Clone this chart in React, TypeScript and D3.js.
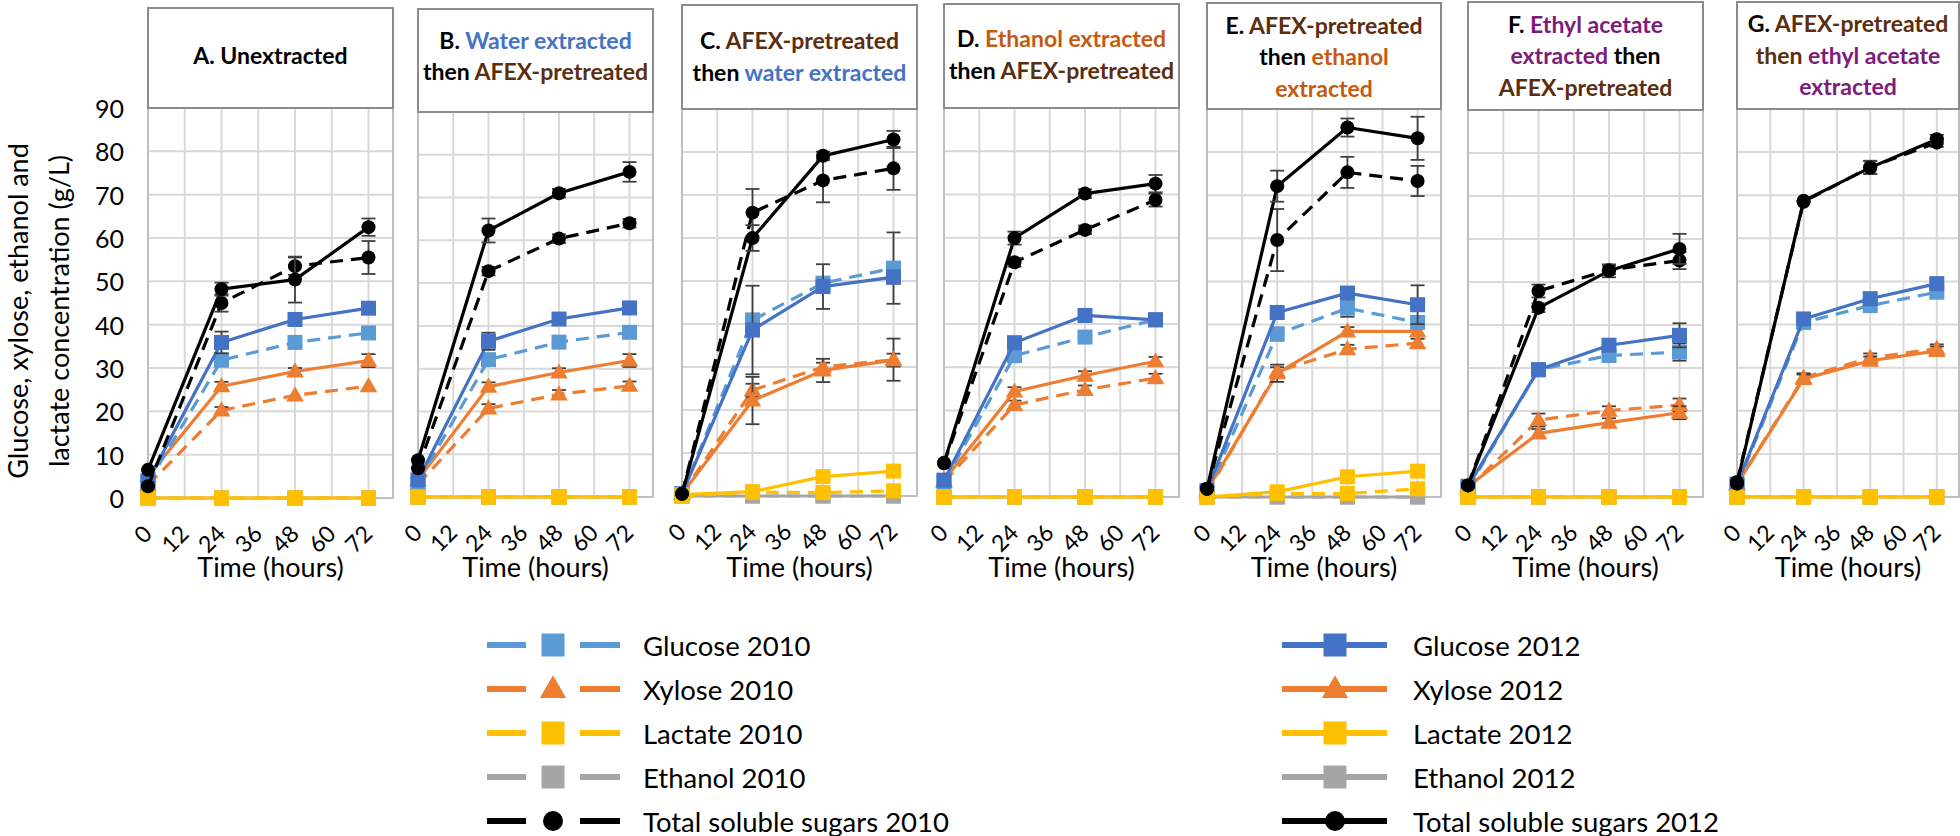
import React from 'react';
import * as d3 from 'd3';

// ---------------- DATA ----------------
const hours = [0, 24, 48, 72];
const xTicks = [0, 12, 24, 36, 48, 60, 72];
const yTicks = [0, 10, 20, 30, 40, 50, 60, 70, 80, 90];

// rows: panels A..G, columns: hours 0, 24, 48, 72 (g/L)
const glucose2010 = [
  [3.5, 31.8, 35.9, 38.1],
  [3.5, 32.1, 36.2, 38.5],
  [0.5, 40.9, 49.5, 53.0],
  [3.5, 32.7, 37.0, 41.0],
  [1.0, 37.8, 43.8, 40.5],
  [2.0, 29.6, 32.9, 33.7],
  [2.5, 40.5, 44.4, 47.5],
];
const glucose2012 = [
  [4.0, 35.9, 41.2, 43.8],
  [4.0, 36.4, 41.6, 44.2],
  [0.5, 38.6, 48.7, 50.9],
  [3.9, 35.7, 42.0, 41.0],
  [1.5, 42.8, 47.3, 44.6],
  [2.5, 29.6, 35.3, 37.6],
  [3.0, 41.3, 46.0, 49.5],
];
const xylose2010 = [
  [3.0, 20.2, 23.7, 25.8],
  [3.0, 20.7, 24.0, 26.0],
  [0.5, 24.6, 30.0, 31.7],
  [3.5, 21.3, 24.8, 27.5],
  [1.0, 29.1, 34.3, 35.7],
  [2.0, 17.9, 20.1, 21.4],
  [3.0, 27.7, 32.3, 34.4],
];
const xylose2012 = [
  [5.0, 25.8, 29.2, 31.7],
  [4.0, 25.8, 29.1, 31.9],
  [0.5, 22.2, 29.2, 31.6],
  [3.9, 24.4, 28.1, 31.4],
  [1.5, 28.7, 38.4, 38.4],
  [2.5, 14.8, 17.3, 19.6],
  [3.0, 27.4, 31.6, 33.9],
];
const lactate2010 = [
  [0, 0, 0, 0],
  [0, 0, 0, 0],
  [0, 0.9, 0.8, 1.2],
  [0, 0, 0, 0],
  [0, 0.8, 0.8, 1.9],
  [0, 0, 0, 0],
  [0, 0, 0, 0],
];
const lactate2012 = [
  [0, 0, 0, 0],
  [0, 0, 0, 0],
  [0.3, 1.0, 4.5, 5.8],
  [0, 0, 0, 0],
  [0, 1.2, 4.7, 6.0],
  [0, 0, 0, 0],
  [0, 0, 0, 0],
];
const ethanol2010 = [
  [0, 0, 0, 0], [0, 0, 0, 0], [0, 0, 0, 0], [0, 0, 0, 0],
  [0, 0, 0, 0], [0, 0, 0, 0], [0, 0, 0, 0],
];
const ethanol2012 = [
  [0, 0, 0, 0], [0, 0, 0, 0], [0, 0, 0, 0], [0, 0, 0, 0],
  [0, 0, 0, 0], [0, 0, 0, 0], [0, 0, 0, 0],
];
const total2010 = [
  [2.7, 45.0, 53.5, 55.5],
  [6.7, 52.8, 60.4, 64.0],
  [0.5, 65.9, 73.4, 76.2],
  [7.8, 54.3, 61.8, 68.7],
  [1.9, 59.6, 75.3, 73.3],
  [2.7, 47.9, 52.8, 55.0],
  [3.5, 68.5, 76.5, 82.2],
];
const total2012 = [
  [6.5, 48.2, 50.4, 62.5],
  [8.6, 62.3, 71.0, 76.0],
  [0.5, 60.0, 79.1, 82.9],
  [7.9, 59.9, 70.2, 72.5],
  [1.9, 72.1, 85.7, 83.2],
  [2.7, 44.0, 52.6, 57.7],
  [3.1, 68.7, 76.4, 83.0],
];

// error bars (± g/L)
const glucose2010Err = [
  [0, 0.8, 0.8, 0.8], [0, 1, 0.8, 0.8], [0, 1.5, 1, 8.3], [0, 0.8, 0.8, 0.8],
  [0, 1.5, 2, 1], [0, 1, 1, 2], [0, 1, 1, 1],
];
const glucose2012Err = [
  [0, 2.5, 0.8, 1], [0, 2, 1, 0.8], [0, 10.3, 5.2, 1.5], [0, 1, 1, 1],
  [0, 1.5, 1, 4.5], [0, 1, 1, 2.8], [0, 1, 1, 1],
];
const xylose2010Err = [
  [0, 0.8, 0.5, 0.5], [0, 1, 1, 1], [0, 1.5, 1, 4.9], [0, 1, 1, 1],
  [0, 1, 1, 1], [0, 1.5, 1, 1.5], [0, 1, 1, 1],
];
const xylose2012Err = [
  [0, 1, 0.8, 1.5], [0, 1, 1, 1.5], [0, 5.5, 2.7, 1.5], [0, 1, 1, 1],
  [0, 2, 1, 1], [0, 1, 1, 1.5], [0, 1, 1, 1],
];
const lactate2012Err = [
  [0, 0, 0, 0], [0, 0, 0, 0], [0, 0.3, 1, 0.5], [0, 0, 0, 0],
  [0, 0.5, 1.2, 0.5], [0, 0, 0, 0], [0, 0, 0, 0],
];
const total2010Err = [
  [0, 2, 2, 3.8], [0, 1, 1, 1], [0, 5.5, 5.1, 5.0], [0, 1, 1, 1.5],
  [0, 7.2, 3.6, 3.5], [0, 1.5, 1, 2], [0, 0.5, 1.5, 1],
];
const total2012Err = [
  [0, 1.5, 5.3, 2], [0, 2.8, 1, 2.3], [0, 3, 1, 2], [0, 1.5, 1, 2],
  [0, 3.6, 2.1, 5.0], [0, 1, 1.5, 3.5], [0, 0.5, 1.5, 1],
];

// ---------------- LAYOUT / STYLE ----------------
const panelLeft = [148, 418, 682, 944, 1207, 1468, 1737];
const panelRight = [393, 653, 917, 1179, 1441, 1703, 1959];
const panelTop = [108, 112, 109, 108, 109, 110, 109];
const panelBottom = [498, 497, 496, 497, 497, 497, 497];
const titleTop = [8, 9, 5, 4, 3, 2, 2];
const titleShift = [-3, -5, -1, -2, 0, -1, -1];

const FONT = 'Lato, "Open Sans", sans-serif';
const BLACK = '#000000';
const BLUE = '#4472C4';
const BROWN = '#5A2E0E';
const ORANGE = '#C55A11';
const PURPLE = '#7B1C7B';

type Seg = { t: string; c: string };
const panelTitles: Seg[][][] = [
  [[{ t: 'A. Unextracted', c: BLACK }]],
  [
    [{ t: 'B. ', c: BLACK }, { t: 'Water extracted', c: BLUE }],
    [{ t: 'then ', c: BLACK }, { t: 'AFEX-pretreated', c: BROWN }],
  ],
  [
    [{ t: 'C. ', c: BLACK }, { t: 'AFEX-pretreated', c: BROWN }],
    [{ t: 'then ', c: BLACK }, { t: 'water extracted', c: BLUE }],
  ],
  [
    [{ t: 'D. ', c: BLACK }, { t: 'Ethanol extracted', c: ORANGE }],
    [{ t: 'then ', c: BLACK }, { t: 'AFEX-pretreated', c: BROWN }],
  ],
  [
    [{ t: 'E. ', c: BLACK }, { t: 'AFEX-pretreated', c: BROWN }],
    [{ t: 'then ', c: BLACK }, { t: 'ethanol', c: ORANGE }],
    [{ t: 'extracted', c: ORANGE }],
  ],
  [
    [{ t: 'F. ', c: BLACK }, { t: 'Ethyl acetate', c: PURPLE }],
    [{ t: 'extracted', c: PURPLE }, { t: ' then', c: BLACK }],
    [{ t: 'AFEX-pretreated', c: BROWN }],
  ],
  [
    [{ t: 'G. ', c: BLACK }, { t: 'AFEX-pretreated', c: BROWN }],
    [{ t: 'then ', c: BROWN }, { t: 'ethyl acetate', c: PURPLE }],
    [{ t: 'extracted', c: PURPLE }],
  ],
];

type Shape = 'square' | 'triangle' | 'circle';
interface Series {
  name: string;
  values: number[][];
  err: number[][] | null;
  color: string;
  dashed: boolean;
  shape: Shape;
}

const series2010: Series[] = [
  { name: 'Glucose 2010', values: glucose2010, err: glucose2010Err, color: '#5B9BD5', dashed: true, shape: 'square' },
  { name: 'Xylose 2010', values: xylose2010, err: xylose2010Err, color: '#ED7D31', dashed: true, shape: 'triangle' },
  { name: 'Lactate 2010', values: lactate2010, err: null, color: '#FFC000', dashed: true, shape: 'square' },
  { name: 'Ethanol 2010', values: ethanol2010, err: null, color: '#A5A5A5', dashed: true, shape: 'square' },
  { name: 'Total soluble sugars 2010', values: total2010, err: total2010Err, color: '#000000', dashed: true, shape: 'circle' },
];
const series2012: Series[] = [
  { name: 'Glucose 2012', values: glucose2012, err: glucose2012Err, color: '#4472C4', dashed: false, shape: 'square' },
  { name: 'Xylose 2012', values: xylose2012, err: xylose2012Err, color: '#ED7D31', dashed: false, shape: 'triangle' },
  { name: 'Lactate 2012', values: lactate2012, err: lactate2012Err, color: '#FFC000', dashed: false, shape: 'square' },
  { name: 'Ethanol 2012', values: ethanol2012, err: null, color: '#A5A5A5', dashed: false, shape: 'square' },
  { name: 'Total soluble sugars 2012', values: total2012, err: total2012Err, color: '#000000', dashed: false, shape: 'circle' },
];

// drawing order inside panels
const drawOrder: Series[] = [
  series2010[3], series2012[3],
  series2010[1], series2012[1],
  series2010[0], series2012[0],
  series2010[2], series2012[2],
  series2010[4], series2012[4],
];

function Marker({ shape, cx, cy, size, color }: { shape: Shape; cx: number; cy: number; size: number; color: string }) {
  if (shape === 'square') {
    return <rect x={cx - size / 2} y={cy - size / 2} width={size} height={size} fill={color} />;
  }
  if (shape === 'circle') {
    return <circle cx={cx} cy={cy} r={size / 2} fill={color} />;
  }
  const h = size * 0.95;
  const w = size * 1.1;
  const p = d3.path();
  p.moveTo(cx, cy - h * 0.6);
  p.lineTo(cx + w / 2, cy + h * 0.4);
  p.lineTo(cx - w / 2, cy + h * 0.4);
  p.closePath();
  return <path d={p.toString()} fill={color} />;
}

function Panel({ i }: { i: number }) {
  const left = panelLeft[i];
  const right = panelRight[i];
  const top = panelTop[i];
  const bottom = panelBottom[i];
  const x = d3.scaleLinear().domain([0, 80]).range([left, right]);
  const y = d3.scaleLinear().domain([0, 90]).range([bottom, top]);
  const line = d3
    .line<number>()
    .x((_, k) => x(hours[k]))
    .y((v) => y(v));

  const tTop = titleTop[i];
  const tMid = (tTop + top) / 2 + titleShift[i];
  const lines = panelTitles[i];
  const lh = 31.5;

  return (
    <g>
      {/* gridlines */}
      {xTicks.map((t) => (
        <line key={'gx' + t} x1={x(t)} x2={x(t)} y1={top} y2={bottom} stroke="#D9D9D9" strokeWidth={2} />
      ))}
      {yTicks.map((t) => (
        <line key={'gy' + t} x1={left} x2={right} y1={y(t)} y2={y(t)} stroke="#D9D9D9" strokeWidth={2} />
      ))}
      <rect x={left} y={top} width={right - left} height={bottom - top} fill="none" stroke="#BFBFBF" strokeWidth={2} />

      {/* title box */}
      <rect x={left} y={tTop} width={right - left} height={top - tTop} fill="#FFFFFF" stroke="#8C8C8C" strokeWidth={2} />
      {lines.map((segs, li) => (
        <text
          key={'tl' + li}
          x={(left + right) / 2}
          y={tMid + (li - (lines.length - 1) / 2) * lh}
          textAnchor="middle"
          dominantBaseline="central"
          fontFamily={FONT}
          fontWeight={700}
          fontSize={23}
        >
          {segs.map((s, si) => (
            <tspan key={si} fill={s.c} style={{ whiteSpace: 'pre' }}>
              {s.t}
            </tspan>
          ))}
        </text>
      ))}

      {/* series */}
      {drawOrder.map((s) => {
        const vals = s.values[i];
        const errs = s.err ? s.err[i] : null;
        return (
          <g key={s.name}>
            <path
              d={line(vals) || ''}
              fill="none"
              stroke={s.color}
              strokeWidth={3.2}
              strokeDasharray={s.dashed ? '13 8' : undefined}
              strokeLinejoin="round"
            />
            {errs &&
              vals.map((v, k) =>
                errs[k] > 0.6 ? (
                  <g key={'e' + k} stroke="#404040" strokeWidth={1.8}>
                    <line x1={x(hours[k])} x2={x(hours[k])} y1={y(v - errs[k])} y2={y(v + errs[k])} />
                    <line x1={x(hours[k]) - 7} x2={x(hours[k]) + 7} y1={y(v - errs[k])} y2={y(v - errs[k])} />
                    <line x1={x(hours[k]) - 7} x2={x(hours[k]) + 7} y1={y(v + errs[k])} y2={y(v + errs[k])} />
                  </g>
                ) : null
              )}
            {vals.map((v, k) => (
              <Marker
                key={'m' + k}
                shape={s.shape}
                cx={x(hours[k])}
                cy={y(v)}
                size={s.shape === 'circle' ? 14 : s.shape === 'triangle' ? 16 : 15}
                color={s.color}
              />
            ))}
          </g>
        );
      })}

      {/* x tick labels */}
      {xTicks.map((t) => (
        <text
          key={'xt' + t}
          transform={`translate(${x(t) - 1},${bottom + 31}) rotate(-45)`}
          textAnchor="end"
          dominantBaseline="central"
          fontFamily={FONT}
          fontSize={23}
          fill="#000"
        >
          {t}
        </text>
      ))}
      <text
        x={(left + right) / 2}
        y={577}
        textAnchor="middle"
        fontFamily={FONT}
        fontSize={27}
        fill="#000"
      >
        Time (hours)
      </text>

      {/* y tick labels only on the first panel */}
      {i === 0 &&
        yTicks.map((t) => (
          <text
            key={'yt' + t}
            x={left - 24}
            y={y(t)}
            textAnchor="end"
            dominantBaseline="central"
            fontFamily={FONT}
            fontSize={25}
            fill="#000"
          >
            {t}
          </text>
        ))}
    </g>
  );
}

function LegendColumn({ items, lineX0, lineX1, markerX, textX, split }: {
  items: Series[]; lineX0: number; lineX1: number; markerX: number; textX: number; split: boolean;
}) {
  const rowY = (k: number) => 645 + k * 44;
  return (
    <g>
      {items.map((s, k) => {
        const cy = rowY(k);
        const size = s.shape === 'circle' ? 20 : s.shape === 'triangle' ? 24 : 23;
        return (
          <g key={s.name}>
            {split ? (
              <>
                <line x1={lineX0} x2={lineX0 + 39} y1={cy} y2={cy} stroke={s.color} strokeWidth={6} />
                <line x1={lineX1 - 40} x2={lineX1} y1={cy} y2={cy} stroke={s.color} strokeWidth={6} />
              </>
            ) : (
              <line x1={lineX0} x2={lineX1} y1={cy} y2={cy} stroke={s.color} strokeWidth={6} />
            )}
            <Marker shape={s.shape} cx={markerX} cy={cy} size={size} color={s.color} />
            <text x={textX} y={cy} dominantBaseline="central" fontFamily={FONT} fontSize={27.5} fill="#000">
              {s.name}
            </text>
          </g>
        );
      })}
    </g>
  );
}

export default function App() {
  const W = 1960;
  const H = 836;
  return (
    <svg
      width={W}
      height={H}
      viewBox={`0 0 ${W} ${H}`}
      style={{ position: 'absolute', left: 0, top: 0, background: '#FFFFFF' }}
    >
      <rect x={0} y={0} width={W} height={H} fill="#FFFFFF" />
      {panelLeft.map((_, i) => (
        <Panel key={i} i={i} />
      ))}

      {/* y axis title */}
      <g fontFamily={FONT} fontSize={27} fill="#000">
        <text transform="translate(28,311) rotate(-90)" textAnchor="middle">
          Glucose, xylose, ethanol and
        </text>
        <text transform="translate(69,311) rotate(-90)" textAnchor="middle">
          lactate concentration (g/L)
        </text>
      </g>

      <LegendColumn items={series2010} lineX0={487} lineX1={620} markerX={553} textX={643} split={true} />
      <LegendColumn items={series2012} lineX0={1282} lineX1={1387} markerX={1335} textX={1413} split={false} />
    </svg>
  );
}
